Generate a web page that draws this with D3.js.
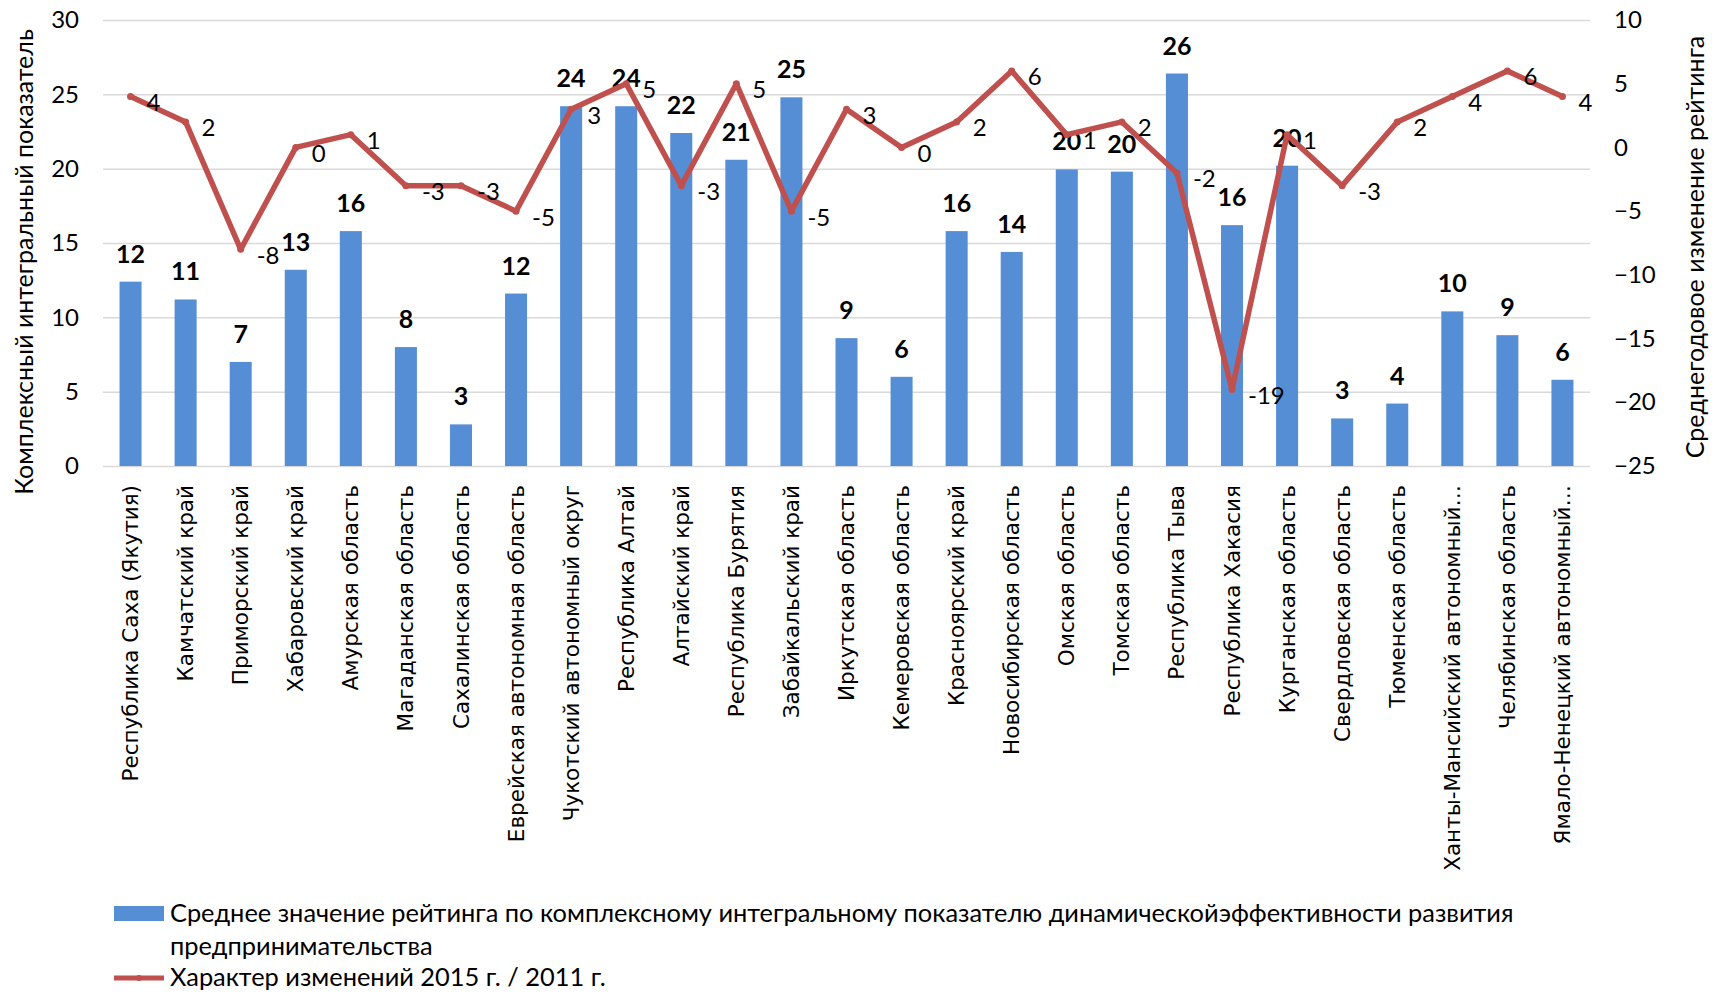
<!DOCTYPE html>
<html>
<head>
<meta charset="utf-8">
<script src="https://cdn.jsdelivr.net/npm/d3@7"></script>
<style>
  body { margin: 0; background: #fff; }
  svg text { font-family: Lato, 'Open Sans', sans-serif; fill: #000; }
  .tick-label { font-size: 24px; }
  .cat-label { font-family: 'DejaVu Sans', sans-serif; font-size: 21.5px; }
  .bar-label { font-size: 25px; font-weight: bold; }
  .line-label { font-size: 24px; }
  .axis-title { font-size: 25px; }
  .legend-text { font-size: 25.4px; }
</style>
</head>
<body>
<svg id="chart"></svg>
<script>
// regions (x axis)
const categories = [
  'Республика Саха (Якутия)', 'Камчатский край', 'Приморский край', 'Хабаровский край',
  'Амурская область', 'Магаданская область', 'Сахалинская область', 'Еврейская автономная область',
  'Чукотский автономный округ', 'Республика Алтай', 'Алтайский край', 'Республика Бурятия',
  'Забайкальский край', 'Иркутская область', 'Кемеровская область', 'Красноярский край',
  'Новосибирская область', 'Омская область', 'Томская область', 'Республика Тыва',
  'Республика Хакасия', 'Курганская область', 'Свердловская область', 'Тюменская область',
  'Ханты-Мансийский автономный…', 'Челябинская область', 'Ямало-Ненецкий автономный…'
]

// bars, left axis
const ratingValues = [
  12.4, 11.2, 7.0, 13.2, 15.8, 8.0, 2.8, 11.6, 24.2, 24.2, 22.4, 20.6, 24.8, 8.6,
  6.0, 15.8, 14.4, 19.95, 19.8, 26.4, 16.2, 20.2, 3.2, 4.2, 10.4, 8.8, 5.8
]

// line, right axis
const changeValues = [
  4, 2, -8, 0, 1, -3, -3, -5, 3, 5, -3, 5, -5, 3, 0, 2, 6, 1, 2, -2, -19, 1, -3, 2, 4, 6, 4
]

const leftTicks = [0, 5, 10, 15, 20, 25, 30]
const rightTicks = [-25, -20, -15, -10, -5, 0, 5, 10]

const leftTitle = 'Комплексный интегральный показатель'
const rightTitle = 'Среднегодовое изменение рейтинга'
const barSeriesName = ['Среднее значение рейтинга по комплексному интегральному показателю динамическойэффективности развития', 'предпринимательства']
const lineSeriesName = 'Характер изменений 2015 г. / 2011 г.'

const barColor = '#558ed5'
const lineColor = '#c0504d'

class ComboChart {

    constructor(config) {
        this.config = {
            parentElement: config.parentElement,
            containerWidth: config.containerWidth || 1719,
            containerHeight: config.containerHeight || 994,
            margin: config.margin || {top: 20, right: 129, bottom: 528, left: 103}
        }
        this.initVis()
    }

    initVis() {
        let vis = this
        const m = vis.config.margin

        vis.width = vis.config.containerWidth - m.left - m.right
        vis.height = vis.config.containerHeight - m.top - m.bottom

        vis.svg = d3.select(vis.config.parentElement)
            .attr('width', vis.config.containerWidth)
            .attr('height', vis.config.containerHeight)

        vis.chart = vis.svg.append('g')
            .attr('transform', `translate(${m.left},${m.top})`)

        vis.xScale = d3.scaleBand()
            .domain(categories)
            .range([0, vis.width])
            .paddingInner(0.6)
            .paddingOuter(0.3)

        vis.yLeft = d3.scaleLinear()
            .domain([0, 30])
            .range([vis.height, 0])

        vis.yRight = d3.scaleLinear()
            .domain([-25, 10])
            .range([vis.height, 0])

        vis.renderVis()
    }

    renderVis() {
        let vis = this
        const xMid = d => vis.xScale(d) + vis.xScale.bandwidth() / 2

        // gridlines
        vis.chart.append('g')
            .call(d3.axisLeft(vis.yLeft).tickValues(leftTicks).tickSize(-vis.width).tickFormat(''))
            .call(g => g.select('.domain').remove())
            .call(g => g.selectAll('line').attr('stroke', '#d9d9d9').attr('stroke-width', 1.5))

        // left axis labels
        vis.chart.append('g')
            .call(d3.axisLeft(vis.yLeft).tickValues(leftTicks).tickSize(0).tickPadding(24))
            .call(g => g.select('.domain').remove())
            .call(g => g.selectAll('text').attr('class', 'tick-label').attr('font-family', null).attr('font-size', null))

        // right axis labels
        vis.chart.append('g')
            .attr('transform', `translate(${vis.width},0)`)
            .call(d3.axisRight(vis.yRight).tickValues(rightTicks).tickSize(0).tickPadding(24))
            .call(g => g.select('.domain').remove())
            .call(g => g.selectAll('text').attr('class', 'tick-label').attr('font-family', null).attr('font-size', null))

        // category labels
        vis.chart.append('g')
            .attr('transform', `translate(0,${vis.height})`)
            .call(d3.axisBottom(vis.xScale).tickSize(0).tickPadding(0))
            .call(g => g.select('.domain').remove())
            .call(g => g.selectAll('text')
                .attr('class', 'cat-label')
                .attr('font-family', null).attr('font-size', null)
                .attr('transform', 'rotate(-90)')
                .attr('text-anchor', 'end')
                .attr('x', -19)
                .attr('y', 0)
                .attr('dy', '0.35em'))

        // bars
        vis.chart.selectAll('.bar')
            .data(ratingValues)
            .join('rect')
                .attr('class', 'bar')
                .attr('x', (d, i) => vis.xScale(categories[i]))
                .attr('y', d => vis.yLeft(d))
                .attr('width', vis.xScale.bandwidth())
                .attr('height', d => vis.height - vis.yLeft(d))
                .attr('fill', barColor)

        vis.chart.selectAll('.bar-label')
            .data(ratingValues)
            .join('text')
                .attr('class', 'bar-label')
                .attr('x', (d, i) => xMid(categories[i]))
                .attr('y', d => vis.yLeft(d) - 19)
                .attr('text-anchor', 'middle')
                .text(d => d3.format('.0f')(d))

        // line
        const line = d3.line()
            .x((d, i) => xMid(categories[i]))
            .y(d => vis.yRight(d))

        vis.chart.append('path')
            .datum(changeValues)
            .attr('d', line)
            .attr('fill', 'none')
            .attr('stroke', lineColor)
            .attr('stroke-width', 5.5)
            .attr('stroke-linejoin', 'round')
            .attr('stroke-linecap', 'round')

        vis.chart.selectAll('.dot')
            .data(changeValues)
            .join('circle')
                .attr('class', 'dot')
                .attr('cx', (d, i) => xMid(categories[i]))
                .attr('cy', d => vis.yRight(d))
                .attr('r', 3.5)
                .attr('fill', lineColor)

        vis.chart.selectAll('.line-label')
            .data(changeValues)
            .join('text')
                .attr('class', 'line-label')
                .attr('x', (d, i) => xMid(categories[i]) + 16)
                .attr('y', d => vis.yRight(d) + 6)
                .attr('dy', '0.35em')
                .text(d => d)

        // axis titles
        vis.svg.append('text')
            .attr('class', 'axis-title')
            .attr('transform', 'translate(24,262) rotate(-90)')
            .attr('text-anchor', 'middle')
            .attr('dy', '0.35em')
            .text(leftTitle)

        vis.svg.append('text')
            .attr('class', 'axis-title')
            .attr('transform', 'translate(1695,247) rotate(-90)')
            .attr('text-anchor', 'middle')
            .attr('dy', '0.35em')
            .text(rightTitle)

        // legend
        const legend = vis.svg.append('g')
            .attr('transform', 'translate(114,906)')

        legend.append('rect')
            .attr('width', 50)
            .attr('height', 15)
            .attr('fill', barColor)

        legend.selectAll('.legend-bar-text')
            .data(barSeriesName)
            .join('text')
                .attr('class', 'legend-text legend-bar-text')
                .attr('x', 56)
                .attr('y', (d, i) => 16 + i * 33)
                .text(d => d)

        legend.append('line')
            .attr('x1', 0).attr('x2', 50)
            .attr('y1', 72).attr('y2', 72)
            .attr('stroke', lineColor)
            .attr('stroke-width', 5)
        legend.append('circle')
            .attr('cx', 25).attr('cy', 72).attr('r', 3)
            .attr('fill', lineColor)

        legend.append('text')
            .attr('class', 'legend-text')
            .attr('x', 56)
            .attr('y', 80)
            .text(lineSeriesName)
    }
}

new ComboChart({parentElement: '#chart'})
</script>
</body>
</html>
